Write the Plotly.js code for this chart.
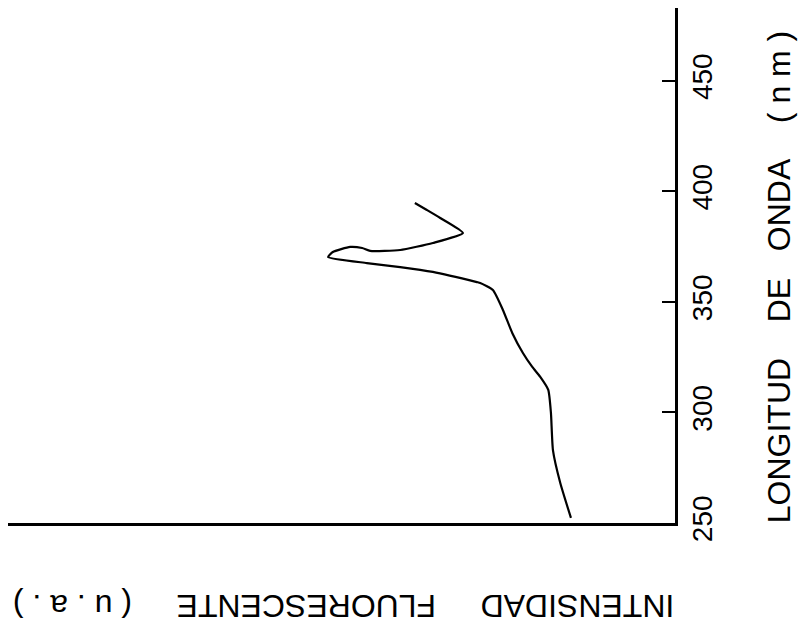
<!DOCTYPE html>
<html>
<head>
<meta charset="utf-8">
<script src="https://cdn.plot.ly/plotly-3.0.1.min.js"></script>
<style>html,body{margin:0;padding:0;background:#fff;}#chart{width:804px;height:631px;}</style>
</head>
<body>
<div id="chart"></div>
<script>
// Fluorescence intensity (arbitrary units) vs wavelength (nm)
const intensity = [15.6, 17.2, 18.3, 18.6, 19.0, 20.2, 21.4, 22.8, 24.4, 25.8, 27.3, 29.2, 29.7, 36.3, 41.2, 46.2, 52.0, 51.3, 48.7, 46.9, 45.7, 41.2, 36.3, 31.8, 35.2, 37.2, 39.0];
const wavelength = [252.3, 268.1, 283.0, 299.8, 310.2, 316.1, 320.6, 326.9, 336.0, 346.4, 355.4, 358.6, 359.0, 363.6, 365.8, 367.6, 370.3, 372.6, 374.9, 374.4, 373.1, 373.5, 376.7, 381.2, 388.0, 391.6, 394.8];
const tickVals = [250, 300, 350, 400, 450];
const tickText = ["250", "300", "350", "400", "450"];
const xTitle = "INTENSIDAD\u00A0\u00A0\u00A0\u00A0\u00A0FLUORESCENTE\u00A0\u00A0\u00A0\u00A0\u00A0(\u00A0u\u00A0.\u00A0a\u00A0.\u00A0)";
const yTitle = "LONGITUD\u00A0\u00A0\u00A0\u00A0DE\u00A0\u00A0\u00A0ONDA\u00A0\u00A0\u00A0\u00A0(\u00A0n\u00A0m\u00A0)";

const font = "Liberation Sans, Arial, sans-serif";

const trace = {
  x: intensity,
  y: wavelength,
  mode: "lines",
  line: {color: "#000", width: 2.2, shape: "spline", smoothing: 0.5},
  hoverinfo: "skip"
};

const layout = {
  width: 804,
  height: 631,
  margin: {l: 8, r: 129, t: 8, b: 108},
  paper_bgcolor: "#fff",
  plot_bgcolor: "#fff",
  showlegend: false,
  xaxis: {
    range: [100, 0],
    showline: true, linecolor: "#000", linewidth: 3,
    showgrid: false, zeroline: false, ticks: "", showticklabels: false
  },
  yaxis: {
    range: [250, 483],
    side: "right",
    showline: true, linecolor: "#000", linewidth: 3,
    showgrid: false, zeroline: false,
    ticks: "inside", ticklen: 13, tickwidth: 2, tickcolor: "#000",
    tickvals: tickVals, ticktext: tickText,
    tickangle: -90,
    tickfont: {family: font, size: 28, color: "#000"},
    ticklabelstandoff: 0
  },
  annotations: [
    {
      text: yTitle, xref: "paper", yref: "paper",
      x: 1.155, y: 0.478, xanchor: "center", yanchor: "middle",
      textangle: -90, showarrow: false,
      font: {family: font, size: 32, color: "#000"}
    },
    {
      text: xTitle, xref: "paper", yref: "paper",
      x: 0.504, y: -0.16, xanchor: "center", yanchor: "middle",
      textangle: 180, showarrow: false,
      font: {family: font, size: 32, color: "#000"}
    }
  ]
};

Plotly.newPlot("chart", [trace], layout, {staticPlot: true, displayModeBar: false});
</script>
</body>
</html>
